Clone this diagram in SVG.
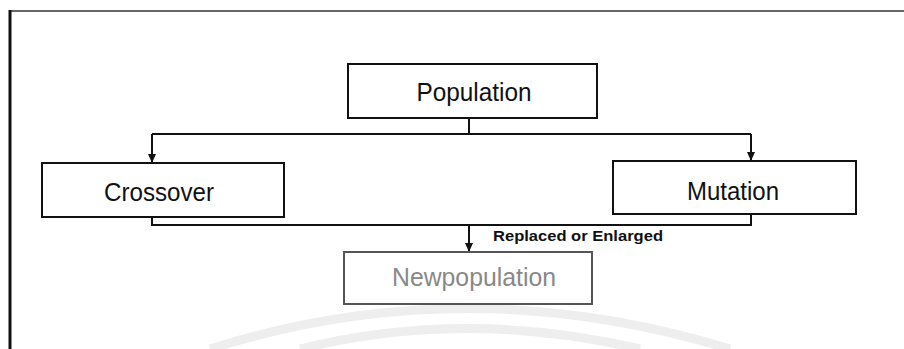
<svg xmlns="http://www.w3.org/2000/svg" width="904" height="349" viewBox="0 0 904 349">
<style>
.box{fill:#fff;stroke:#111;stroke-width:2}
.lbl{font-family:"Liberation Sans",Arial,sans-serif;font-size:25px;fill:#111;text-anchor:middle}
.conn{fill:none;stroke:#111;stroke-width:2}
</style>
<defs>
<marker id="ah" markerUnits="userSpaceOnUse" markerWidth="9" markerHeight="9" refX="9" refY="4" orient="auto">
<path d="M0,0 L9,4 L0,8 z" fill="#111"/>
</marker>
</defs>
<rect width="904" height="349" fill="#fff"/>
<g id="watermark" fill="none" stroke="#eeeeee" stroke-width="9">
<path d="M210,349 Q465,268 730,349"/>
<path d="M300,349 Q465,308 640,349"/>
</g>
<g id="frame">
<path d="M10,11 H904" stroke="#666" stroke-width="2" fill="none"/>
<path d="M10,10 V349" stroke="#111" stroke-width="3" fill="none"/>
</g>
<g id="connectors">
<path class="conn" d="M469,118 V134"/>
<path class="conn" d="M152,134 H751"/>
<path class="conn" d="M152,134 V163" marker-end="url(#ah)"/>
<path class="conn" d="M751,134 V161" marker-end="url(#ah)"/>
<path class="conn" d="M152,217 V225 H751 V214"/>
<path class="conn" d="M469,225 V252" marker-end="url(#ah)"/>
<text x="493" y="241" font-family="'Liberation Sans',Arial,sans-serif" font-size="15" font-weight="bold" fill="#111" textLength="170" lengthAdjust="spacingAndGlyphs">Replaced or Enlarged</text>
</g>
<g id="population">
<rect class="box" x="348" y="64" width="249" height="54"/>
<text class="lbl" x="474" y="101" textLength="115" lengthAdjust="spacingAndGlyphs">Population</text>
</g>
<g id="crossover">
<rect class="box" x="42" y="163" width="242" height="54"/>
<text class="lbl" x="159" y="201" textLength="110" lengthAdjust="spacingAndGlyphs">Crossover</text>
</g>
<g id="mutation">
<rect class="box" x="613" y="161" width="243" height="53"/>
<text class="lbl" x="733" y="200" textLength="92" lengthAdjust="spacingAndGlyphs">Mutation</text>
</g>
<g id="newpopulation">
<rect x="344" y="252" width="248" height="52" fill="#fff" stroke="#555" stroke-width="2"/>
<text class="lbl" x="474" y="286" style="fill:#888" textLength="164" lengthAdjust="spacingAndGlyphs">Newpopulation</text>
</g>
</svg>
